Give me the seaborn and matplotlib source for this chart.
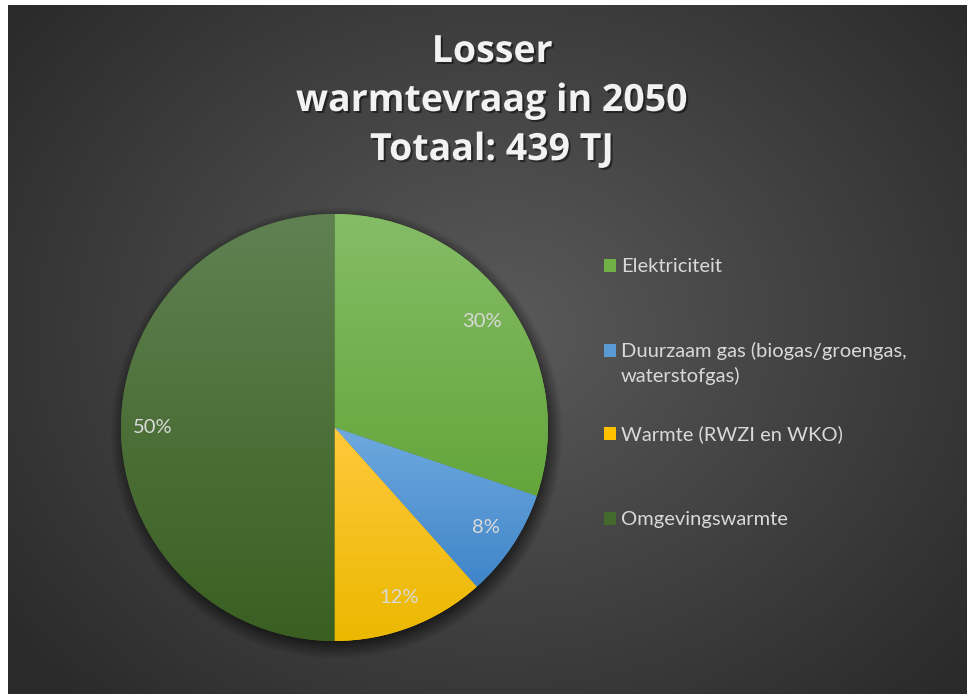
import numpy as np
import matplotlib
matplotlib.use("Agg")
import matplotlib.pyplot as plt
import matplotlib.patheffects as pe
from matplotlib.colors import LinearSegmentedColormap, to_rgb
from matplotlib.patches import Rectangle
import seaborn as sns

# ---------------- data ----------------
title = "Losser\nwarmtevraag in 2050\nTotaal: 439 TJ"
categories = ["Elektriciteit",
              "Duurzaam gas (biogas/groengas,\nwaterstofgas)",
              "Warmte (RWZI en WKO)",
              "Omgevingswarmte"]
shares = [30.2, 8.2, 11.6, 50.0]
base_colors = ["#70b045", "#5b9bd5", "#ffc000", "#436a2c"]
grad_top = ["#85bd67", "#6fa9df", "#ffc83c", "#608152"]
grad_bottom = ["#64a53b", "#3f85c8", "#ebb900", "#3a5f21"]

sns.set_theme(style="white")
plt.rcParams["font.family"] = ["Lato", "DejaVu Sans"]

W, H = 967, 694
fig = plt.figure(figsize=(W / 100, H / 100), dpi=100)
fig.patch.set_facecolor("white")

# ---------------- background (radial gradient) ----------------
bx0, by0 = 8, 5
bg = fig.add_axes([bx0 / W, 0, (W - bx0) / W, (H - by0) / H])
bg.set_axis_off()
yy, xx = np.mgrid[by0:H, bx0:W]
cx, cy = 500, 330
d = np.sqrt(((xx - cx) / 620.0) ** 2 + ((yy - cy) / 520.0) ** 2)
d = np.clip(d, 0, 1)
c_in, c_out = np.array(to_rgb("#5a5a5a")), np.array(to_rgb("#2a2a2a"))
img = c_in[None, None, :] * (1 - d[..., None]) + c_out[None, None, :] * d[..., None]
bg.imshow(img, aspect="auto", extent=(0, 1, 0, 1))
bg.set_xlim(0, 1)
bg.set_ylim(0, 1)

# ---------------- pie ----------------
pcx, pcy, R = 334.5, 427.5, 213.5
lim = 1.12
size = 2 * lim * R
ax = fig.add_axes([(pcx - lim * R) / W, (H - pcy - lim * R) / H, size / W, size / H])
ax.set_axis_off()

# soft shadow
sy, sx = np.mgrid[-lim:lim:400j, -lim:lim:400j]
rr = np.sqrt((sx - 0.01) ** 2 + (sy + 0.025) ** 2)
alpha = np.clip((1.06 - rr) / 0.08, 0, 1) * 0.55
shadow = np.zeros((400, 400, 4))
shadow[..., 3] = alpha
ax.imshow(shadow, extent=(-lim, lim, -lim, lim), origin="lower", zorder=0)

wedges, texts, autotexts = ax.pie(
    shares, colors=base_colors, startangle=90, counterclock=False,
    radius=1, autopct="%1.0f%%", pctdistance=0.85,
    wedgeprops=dict(linewidth=0), textprops=dict(color="#d9d9d9", fontsize=14.5))

for w, ct, cb in zip(wedges, grad_top, grad_bottom):
    ext = w.get_path().get_extents()
    cmap = LinearSegmentedColormap.from_list("g", [cb, ct])
    grad = np.linspace(0, 1, 256)[:, None]
    im = ax.imshow(grad, cmap=cmap, extent=(ext.x0, ext.x1, ext.y0, ext.y1),
                   origin="lower", aspect="auto", zorder=w.get_zorder() + 0.1)
    im.set_clip_path(w)
for t in autotexts:
    t.set_zorder(5)
ax.set_xlim(-lim, lim)
ax.set_ylim(-lim, lim)
ax.set_aspect("auto")

# ---------------- title ----------------
fig.text(492 / W, 1 - 101 / H, title, ha="center", va="center",
         fontsize=27, fontweight="bold", color="#f2f2f2", family=["Open Sans", "DejaVu Sans"],
         linespacing=1.38,
         path_effects=[pe.withSimplePatchShadow(offset=(1.5, -1.5), shadow_rgbFace="black", alpha=0.45)])

# ---------------- legend ----------------
baselines = [272, 357, 440, 525]
for cat, col, yb in zip(categories, base_colors, baselines):
    fig.patches.append(Rectangle((604 / W, 1 - yb / H), 12 / W, 13 / H,
                                 transform=fig.transFigure, facecolor=col, edgecolor="none"))
    for i, line in enumerate(cat.split("\n")):
        fig.text(621 / W, 1 - (yb + 25 * i) / H, line, ha="left", va="baseline",
                 fontsize=14.5, color="#d9d9d9")

fig.savefig("out.png", dpi=100, facecolor=fig.get_facecolor())
